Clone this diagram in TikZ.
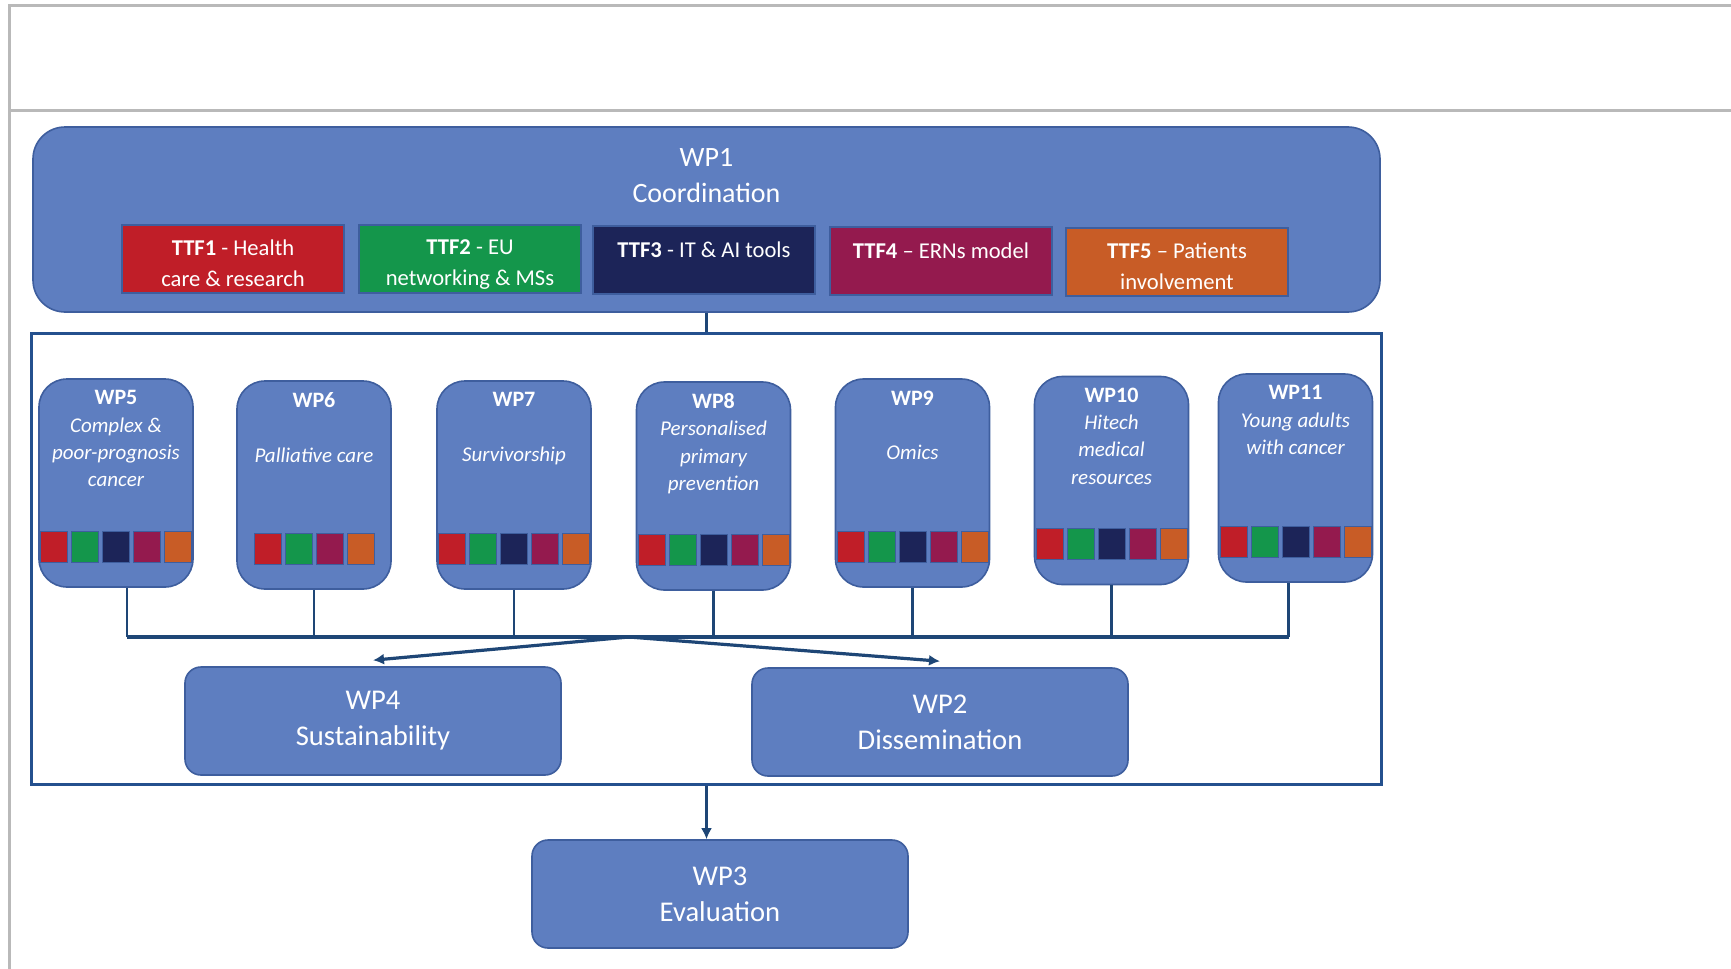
\documentclass[tikz,border=0pt]{standalone}
\usepackage{fontspec}
\setmainfont{Carlito}
\usetikzlibrary{positioning,arrows.meta}

\definecolor{wpfill}{RGB}{94,126,192}
\definecolor{wpedge}{RGB}{62,94,158}
\definecolor{framecol}{RGB}{36,80,142}
\definecolor{linkcol}{RGB}{30,70,118}
\definecolor{ttfred}{RGB}{192,30,40}
\definecolor{ttfgreen}{RGB}{20,150,75}
\definecolor{ttfnavy}{RGB}{28,36,88}
\definecolor{ttfpurple}{RGB}{148,26,78}
\definecolor{ttforange}{RGB}{200,92,38}

% coloured TTF tiles along the foot of a WP box
\newcommand{\wptiles}[3]{%
  \foreach \c [count=\i] in {#3}
    \node[tile, fill=\c] (#1-t\i) at ([xshift={(\i-(#2+1)/2)*15.5pt}, yshift=20.5pt]#1.south) {};
}
\newcommand{\wptitle}[1]{{\upshape\bfseries\fontsize{11}{13.8}\selectfont #1}}
\newcommand{\ttfstrut}{\rule{0pt}{12.5pt}}

\begin{document}
\begin{tikzpicture}[
  x=0.5pt, y=-0.5pt,
  wpbox/.style={draw=wpedge, line width=0.8pt, fill=wpfill, rounded corners=14pt, minimum width=77pt, minimum height=104pt, inner sep=0pt},
  wptext/.style={text=white, align=center, inner sep=0pt, font=\fontsize{10.5}{13.6}\selectfont\itshape},
  ttfbox/.style={draw=wpedge, line width=0.8pt, minimum width=111pt, minimum height=34pt, inner sep=0pt, text=white, align=center, font=\fontsize{11.3}{15.5}\selectfont},
  tile/.style={draw=wpedge, line width=0.5pt, minimum width=13.5pt, minimum height=15.5pt, inner sep=0pt},
  bigbox/.style={draw=wpedge, line width=0.8pt, fill=wpfill, rounded corners=8pt, minimum width=188pt, minimum height=54pt, text=white, align=center, font=\fontsize{14.3}{18}\selectfont},
  link/.style={draw=linkcol, line width=1.1pt},
  bus/.style={draw=linkcol, line width=1.7pt},
  flow/.style={-{Latex[length=5.5pt,width=5.5pt]}, draw=linkcol, line width=1.1pt}
]
\useasboundingbox (0,0) rectangle (1731,969);
\fill[white] (0,0) rectangle (1731,969);

% page frame
\draw[gray!55, line width=1.5pt] (1731,5.5) -- (9,5.5) -- (9,969);
\draw[gray!55, line width=1.5pt] (9,110) -- (1731,110);

% coordination
\node[draw=wpedge, line width=0.8pt, fill=wpfill, rounded corners=16pt, minimum width=673.5pt, minimum height=92.5pt] (wp1) at (706.5,219.5) {};
\node[text=white, align=center, font=\fontsize{14}{18}\selectfont] (wp1-txt) at (706.5,176) {WP1\\Coordination};

\node[ttfbox, fill=ttfred] (ttf1) at (233,259) {\ttfstrut\textbf{TTF1} - Health\\care \& research};
\node[ttfbox, fill=ttfgreen] (ttf2) at (470,259) {\ttfstrut\textbf{TTF2} - EU\\networking \& MSs};
\node[ttfbox, fill=ttfnavy] (ttf3) at (704,260) {\ttfstrut\textbf{TTF3} - IT \& AI tools\\\mbox{}};
\node[ttfbox, fill=ttfpurple] (ttf4) at (941,261) {\ttfstrut\textbf{TTF4} – ERNs model\\\mbox{}};
\node[ttfbox, fill=ttforange] (ttf5) at (1177,262) {\ttfstrut\textbf{TTF5} – Patients\\involvement};

% vertical work packages
\node[draw=framecol, line width=1.5pt, minimum width=675pt, minimum height=225.5pt, inner sep=0pt] (inner) at (706,558.5) {};
\draw[link] (wp1.south) -- (inner.north -| wp1.south);

\node[wpbox] (wp5) at (116,483) {};
\node[wpbox] (wp6) at (314,485) {};
\node[wpbox] (wp7) at (514,485) {};
\node[wpbox] (wp8) at (713.5,486) {};
\node[wpbox] (wp9) at (912.5,483) {};
\node[wpbox] (wp10) at (1111.5,480.5) {};
\node[wpbox] (wp11) at (1295.5,478) {};

\node[wptext, below=6pt of wp5.north] (wp5-txt) {\wptitle{WP5}\\Complex \&\\poor-prognosis\\cancer};
\node[wptext, below=6pt of wp6.north] (wp6-txt) {\wptitle{WP6}\\[13.6pt]Palliative care};
\node[wptext, below=6pt of wp7.north] (wp7-txt) {\wptitle{WP7}\\[13.6pt]Survivorship};
\node[wptext, below=6pt of wp8.north] (wp8-txt) {\wptitle{WP8}\\Personalised\\primary\\prevention};
\node[wptext, below=6pt of wp9.north] (wp9-txt) {\wptitle{WP9}\\[13.6pt]Omics};
\node[wptext, below=6pt of wp10.north] (wp10-txt) {\wptitle{WP10}\\Hitech\\medical\\resources};
\node[wptext, below=6pt of wp11.north] (wp11-txt) {\wptitle{WP11}\\Young adults\\with cancer};

\wptiles{wp5}{5}{ttfred,ttfgreen,ttfnavy,ttfpurple,ttforange}
\wptiles{wp6}{4}{ttfred,ttfgreen,ttfpurple,ttforange}
\wptiles{wp7}{5}{ttfred,ttfgreen,ttfnavy,ttfpurple,ttforange}
\wptiles{wp8}{5}{ttfred,ttfgreen,ttfnavy,ttfpurple,ttforange}
\wptiles{wp9}{5}{ttfred,ttfgreen,ttfnavy,ttfpurple,ttforange}
\wptiles{wp10}{5}{ttfred,ttfgreen,ttfnavy,ttfpurple,ttforange}
\wptiles{wp11}{5}{ttfred,ttfgreen,ttfnavy,ttfpurple,ttforange}

% horizontal work packages
\node[bigbox] (wp4) at (373,721) {WP4\\Sustainability};
\node[bigbox] (wp2) at (940,722) {WP2\\Dissemination};
\node[bigbox] (wp3) at (720,894) {WP3\\Evaluation};

% collecting bus
\coordinate (bus) at (0,637);
\coordinate (drop5) at ([xshift=5.5pt]wp5.south);
\coordinate (drop11) at ([xshift=-3.5pt]wp11.south);
\foreach \b in {wp6,wp7,wp8,wp9,wp10}
  \draw[link] (\b.south) -- (\b.south |- bus);
\draw[link] (drop5) -- (drop5 |- bus);
\draw[link] (drop11) -- (drop11 |- bus);
\draw[bus] (drop5 |- bus) -- (drop11 |- bus);

\coordinate (split) at (629,637);
\draw[flow, line width=1.6pt] (split) -- ([yshift=3pt]wp4.north);
\draw[flow, line width=1.6pt] (split) -- ([yshift=3pt]wp2.north);
\draw[flow] (inner.south -| wp1.south) -- (wp3.north -| wp1.south);
\end{tikzpicture}
\end{document}
